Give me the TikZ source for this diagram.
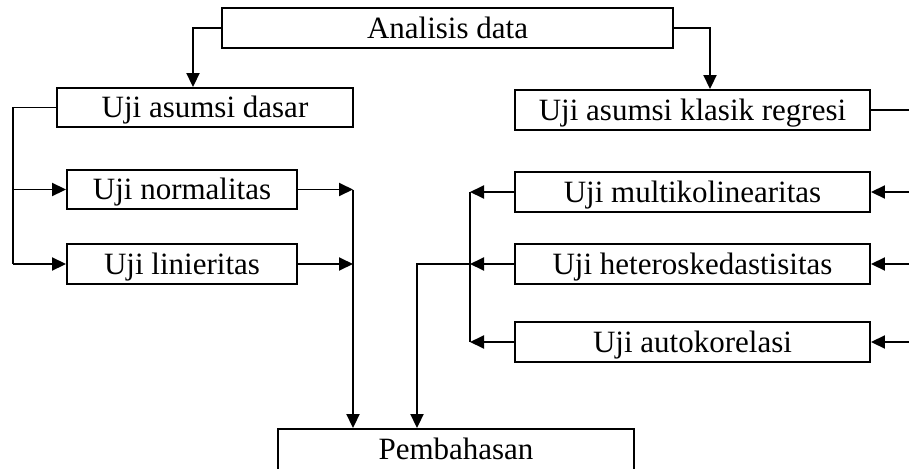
\documentclass[tikz,border=0pt]{standalone}
\usepackage{fontspec}
\setmainfont{Liberation Serif}
\usetikzlibrary{arrows.meta}
\begin{document}
\begin{tikzpicture}[x=1pt,y=-1pt,
  box/.style={draw,line width=1.9pt,inner sep=0pt,minimum height=40pt,
    font=\fontsize{31}{36}\selectfont,text height=20.5pt,text depth=0pt},
  conn/.style={line width=1.9pt},
  arr/.style={line width=1.9pt,-{Triangle[length=14pt,width=13pt]}}]
\path[use as bounding box,clip] (0,0) rectangle (909,468);
% boxes
\node[box,minimum width=451pt] (ad) at (447.5,28) {Analisis data};
\node[box,minimum width=296pt,minimum height=39pt] (uad) at (205,107.5) {Uji asumsi dasar};
\node[box,minimum width=355pt] (uak) at (692.5,110) {Uji asumsi klasik regresi};
\node[box,minimum width=230pt,minimum height=39pt] (un) at (182,189.5) {Uji normalitas};
\node[box,minimum width=230pt] (ul) at (182,264) {Uji linieritas};
\node[box,minimum width=355pt] (um) at (692.5,192) {Uji multikolinearitas};
\node[box,minimum width=355pt] (uh) at (692.5,264) {Uji heteroskedastisitas};
\node[box,minimum width=355pt] (ua) at (692.5,342) {Uji autokorelasi};
\node[box,minimum width=356pt,minimum height=41pt] (pb) at (456,449.5) {Pembahasan};
% helper coordinates
\coordinate (lt) at (13,107.5);
\coordinate (ln) at (13,189.5);
\coordinate (ll) at (13,264);
\coordinate (mn) at (353,189.5);
\coordinate (ml) at (353,264);
\coordinate (rm) at (470,192);
\coordinate (rh) at (470,264);
\coordinate (ra) at (470,342);
\coordinate (rj) at (417,264);
\coordinate (ek) at (909,110);
\coordinate (em) at (909,192);
\coordinate (eh) at (909,264);
\coordinate (ea) at (909,342);
% top connectors
\draw[arr] (ad.west) -| ([xshift=-12pt]uad.north);
\draw[arr] (ad.east) -| ([xshift=17.5pt]uak.north);
% left branch
\draw[conn] (uad.west) -- (lt) -- (ll);
\draw[arr] (ln) -- (un.west);
\draw[arr] (ll) -- (ul.west);
\draw[arr] (un.east) -- (mn);
\draw[arr] (ul.east) -- (ml);
\draw[arr] (mn) -- (mn |- pb.north);
% right branch
\draw[conn] (uak.east) -- (ek);
\draw[arr] (em) -- (um.east);
\draw[arr] (eh) -- (uh.east);
\draw[arr] (ea) -- (ua.east);
\draw[arr] (um.west) -- (rm);
\draw[arr] (uh.west) -- (rh);
\draw[arr] (ua.west) -- (ra);
\draw[conn] (rm) -- (ra);
\draw[arr] (rh) -- (rj) -- (rj |- pb.north);
\end{tikzpicture}
\end{document}
